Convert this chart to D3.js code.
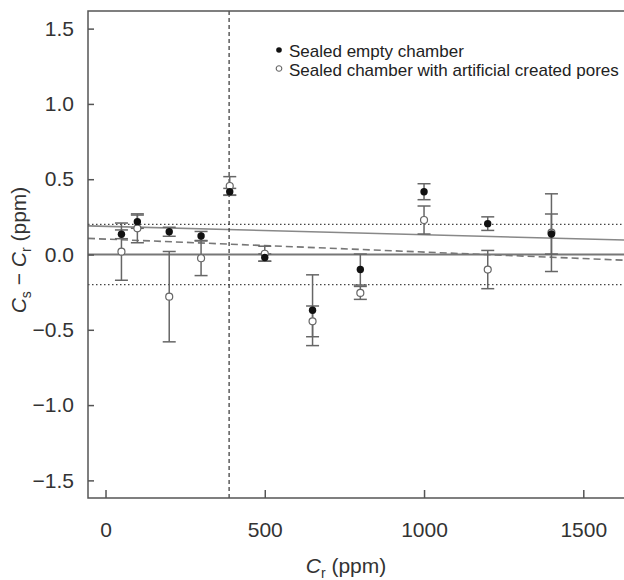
<!DOCTYPE html>
<html>
<head>
<meta charset="utf-8">
<script src="https://cdn.jsdelivr.net/npm/d3@7"></script>
<style>
  body { margin: 0; background: #fff; }
  svg { display: block; font-family: "Liberation Sans", Arial, sans-serif; }
</style>
</head>
<body>
<div class="chart"></div>
<script>
// data
const cr = [50, 100, 200, 300, 390, 500, 650, 800, 1000, 1200, 1400];
const emptyDiff = [0.134, 0.218, 0.151, 0.123, 0.417, -0.02, -0.37, -0.10, 0.417, 0.205, 0.136];
const emptyErr = [0.029, 0.044, 0.03, 0.03, 0.022, 0.024, 0.235, 0.103, 0.053, 0.045, 0.133];
const poresDiff = [0.019, 0.174, -0.28, -0.025, 0.455, 0.005, -0.444, -0.255, 0.229, -0.10, 0.145];
const poresErr = [0.19, 0.096, 0.30, 0.115, 0.062, 0.05, 0.102, 0.043, 0.093, 0.127, 0.258];

const fitX = [-55, 1700];
const fitEmpty = [0.19, 0.092];
const fitPores = [0.107, -0.044];
const ambient = 388;
const band = [0.2, -0.2];

const xTicks = [0, 500, 1000, 1500];
const yTicks = [1.5, 1.0, 0.5, 0.0, -0.5, -1.0, -1.5];
const legendLabels = ["Sealed empty chamber", "Sealed chamber with artificial created pores"];

const w = 624, h = 580;
const margin = {top: 11, left: 88, bottom: 82};

const svg = d3.select(".chart").append("svg")
  .attr("width", w).attr("height", h);

const x = d3.scaleLinear().domain([-55, 1700]).range([margin.left, 647]);
const y = d3.scaleLinear().domain([-1.617, 1.617]).range([h - margin.bottom, margin.top]);
const line = d3.line().x(d => x(d[0])).y(d => y(d[1]));

// reference lines
svg.selectAll(".band").data(band).enter().append("line")
  .attr("x1", x.range()[0]).attr("x2", x.range()[1])
  .attr("y1", d => y(d)).attr("y2", d => y(d))
  .style("stroke", "#444").style("stroke-width", 1.3).style("stroke-dasharray", "1.5,2.5");

svg.append("line")
  .attr("x1", x.range()[0]).attr("x2", x.range()[1])
  .attr("y1", y(0)).attr("y2", y(0))
  .style("stroke", "#777").style("stroke-width", 2);

svg.append("path")
  .attr("d", line(fitX.map((v, i) => [v, fitEmpty[i]])))
  .style("fill", "none").style("stroke", "#888").style("stroke-width", 1.6);

svg.append("path")
  .attr("d", line(fitX.map((v, i) => [v, fitPores[i]])))
  .style("fill", "none").style("stroke", "#777").style("stroke-width", 1.6)
  .style("stroke-dasharray", "7,4");

svg.append("line")
  .attr("x1", x(ambient)).attr("x2", x(ambient))
  .attr("y1", y.range()[1]).attr("y2", y.range()[0])
  .style("stroke", "#333").style("stroke-width", 1.2).style("stroke-dasharray", "4,3");

// error bars
function errorBars(vals, errs) {
  const g = svg.append("g").style("stroke", "#666").style("stroke-width", 1.5);
  cr.forEach((c, i) => {
    const cx = x(c), top = y(vals[i] + errs[i]), bot = y(vals[i] - errs[i]);
    g.append("line").attr("x1", cx).attr("x2", cx).attr("y1", top).attr("y2", bot);
    g.append("line").attr("x1", cx - 6.5).attr("x2", cx + 6.5).attr("y1", top).attr("y2", top);
    g.append("line").attr("x1", cx - 6.5).attr("x2", cx + 6.5).attr("y1", bot).attr("y2", bot);
  });
}
errorBars(poresDiff, poresErr);
errorBars(emptyDiff, emptyErr);

svg.selectAll(".pores").data(cr).enter().append("circle")
  .attr("cx", d => x(d)).attr("cy", (d, i) => y(poresDiff[i])).attr("r", 3.5)
  .style("fill", "#fff").style("stroke", "#666").style("stroke-width", 1.2);

svg.selectAll(".empty").data(cr).enter().append("circle")
  .attr("cx", d => x(d)).attr("cy", (d, i) => y(emptyDiff[i])).attr("r", 3.7)
  .style("fill", "#111");

// frame
svg.append("rect")
  .attr("x", x.range()[0]).attr("y", y.range()[1])
  .attr("width", x.range()[1] - x.range()[0]).attr("height", y.range()[0] - y.range()[1])
  .style("fill", "none").style("stroke", "#555").style("stroke-width", 1.5);

// axes
const yAxis = svg.append("g")
  .attr("transform", `translate(${margin.left},0)`)
  .call(d3.axisLeft(y).tickValues(yTicks).tickFormat(d3.format(".1f")).tickSize(-6).tickPadding(14));
const xAxis = svg.append("g")
  .attr("transform", `translate(0,${h - margin.bottom})`)
  .call(d3.axisBottom(x).tickValues(xTicks).tickFormat(d3.format("d")).tickSize(-8).tickPadding(24));
[xAxis, yAxis].forEach(a => {
  a.select(".domain").remove();
  a.selectAll(".tick line").style("stroke", "#555").style("stroke-width", 1.5);
  a.selectAll(".tick text").style("font-size", "21px").style("fill", "#333")
    .style("font-family", "'Liberation Sans', Arial, sans-serif");
});

// axis titles
const xt = svg.append("text")
  .attr("x", 346).attr("y", 573).attr("text-anchor", "middle")
  .style("font-size", "21px").style("fill", "#333");
xt.append("tspan").style("font-style", "italic").text("C");
xt.append("tspan").style("font-size", "14px").attr("dy", 5).text("r");
xt.append("tspan").attr("dy", -5).text(" (ppm)");

const yt = svg.append("text")
  .attr("transform", "translate(26,250) rotate(-90)").attr("text-anchor", "middle")
  .style("font-size", "21px").style("fill", "#333");
yt.append("tspan").style("font-style", "italic").text("C");
yt.append("tspan").style("font-size", "14px").attr("dy", 5).text("s");
yt.append("tspan").attr("dy", -5).text(" \u2212 ");
yt.append("tspan").style("font-style", "italic").text("C");
yt.append("tspan").style("font-size", "14px").attr("dy", 5).text("r");
yt.append("tspan").attr("dy", -5).text(" (ppm)");

// legend
const leg = svg.selectAll(".leg").data(legendLabels).enter().append("g")
  .attr("transform", (d, i) => `translate(279,${50 + i * 18.5})`);
leg.append("circle").attr("r", 2.8)
  .style("fill", (d, i) => i === 0 ? "#111" : "#fff")
  .style("stroke", (d, i) => i === 0 ? "none" : "#666").style("stroke-width", 1.1);
leg.append("text").attr("x", 10).attr("y", 7)
  .style("font-size", "17px").style("fill", "#222").text(d => d);
</script>
</body>
</html>
